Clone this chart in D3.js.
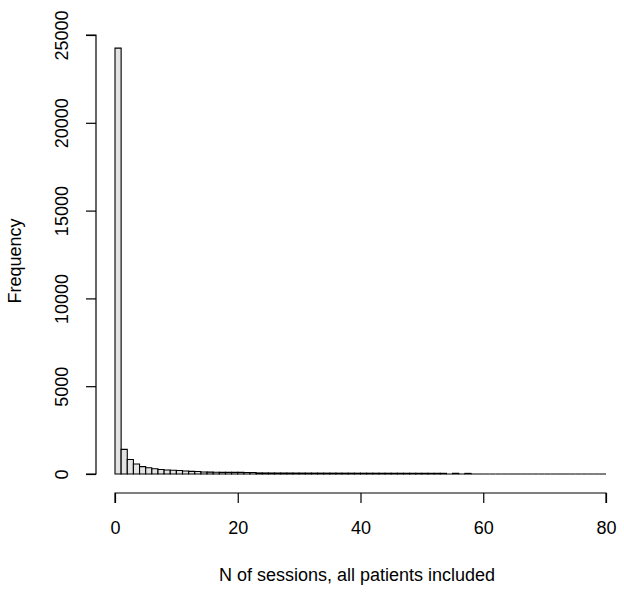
<!DOCTYPE html>
<html>
<head>
<meta charset="utf-8">
<script src="https://cdn.jsdelivr.net/npm/d3@7"></script>
<style>
body{margin:0;background:#fff;}
svg{display:block;}
text{font-family:"Liberation Sans",Arial,sans-serif;fill:#000;}
</style>
</head>
<body>
<svg id="chart" width="624" height="593"></svg>
<script>
// Histogram bins: left edges 0..79, width 1
const binStarts = d3.range(0, 80);
const frequencies = [
 24250, 1400, 830, 570, 420, 360, 300, 260, 230, 210,
 200, 170, 150, 140, 115, 105, 100, 95, 95, 90,
 90, 85, 85, 60, 58, 56, 55, 54, 53, 52,
 51, 50, 50, 49, 48, 48, 47, 46, 46, 45,
 45, 44, 44, 43, 43, 42, 42, 41, 41, 40,
 40, 39, 39, 38, 0, 40, 0, 35, 0, 0,
 0, 0, 0, 0, 0, 0, 0, 0, 0, 0,
 0, 0, 0, 0, 0, 0, 0, 0, 0, 0
];
const xTicks = [0, 20, 40, 60, 80];
const yTicks = [0, 5000, 10000, 15000, 20000, 25000];
const xLabel = "N of sessions, all patients included";
const yLabel = "Frequency";

const svg = d3.select("#chart");
const x = d3.scaleLinear().domain([0, 80]).range([115, 606]);
const y = d3.scaleLinear().domain([0, 25000]).range([474, 35]);

// bars (drawn as paths so that empty bins still show as a line on the baseline)
svg.append("g").selectAll("path")
  .data(binStarts)
  .join("path")
  .attr("d", (d, i) => {
    const x0 = x(d), x1 = x(d + 1), y0 = y(0), y1 = y(frequencies[i]);
    return `M${x0},${y0}H${x1}V${y1}H${x0}Z`;
  })
  .attr("fill", "#e3e3e3")
  .attr("stroke", "#000")
  .attr("stroke-width", 1.1);

// x axis
const xAxis = d3.axisBottom(x).tickValues(xTicks).tickSize(10).tickPadding(18).tickFormat(d3.format("d"));
const gx = svg.append("g").attr("transform", "translate(0,493)").call(xAxis);
gx.select(".domain").attr("stroke", "#000").attr("stroke-width", 1.2).attr("d", `M${x(0)},10V0H${x(80)}V10`);
gx.selectAll(".tick line").attr("stroke", "#000").attr("stroke-width", 1.2);
gx.selectAll(".tick text").attr("font-size", 18).attr("font-family", "Liberation Sans, Arial, sans-serif");

// y axis
const yAxis = d3.axisLeft(y).tickValues(yTicks).tickSize(10).tickFormat(d3.format("d"));
const gy = svg.append("g").attr("transform", "translate(96,0)").call(yAxis);
gy.select(".domain").attr("stroke", "#000").attr("stroke-width", 1.2).attr("d", `M-10,${y(0)}H0V${y(25000)}H-10`);
gy.selectAll(".tick line").attr("stroke", "#000").attr("stroke-width", 1.2);
gy.selectAll(".tick text")
  .attr("font-size", 18)
  .attr("font-family", "Liberation Sans, Arial, sans-serif")
  .attr("transform", "translate(-28,0) rotate(-90)")
  .attr("x", 0).attr("dy", 0)
  .attr("text-anchor", "middle");

// axis titles
svg.append("text")
  .attr("x", 357).attr("y", 581)
  .attr("text-anchor", "middle")
  .attr("font-size", 18)
  .text(xLabel);
svg.append("text")
  .attr("transform", "translate(21,261) rotate(-90)")
  .attr("text-anchor", "middle")
  .attr("font-size", 18)
  .text(yLabel);
</script>
</body>
</html>
